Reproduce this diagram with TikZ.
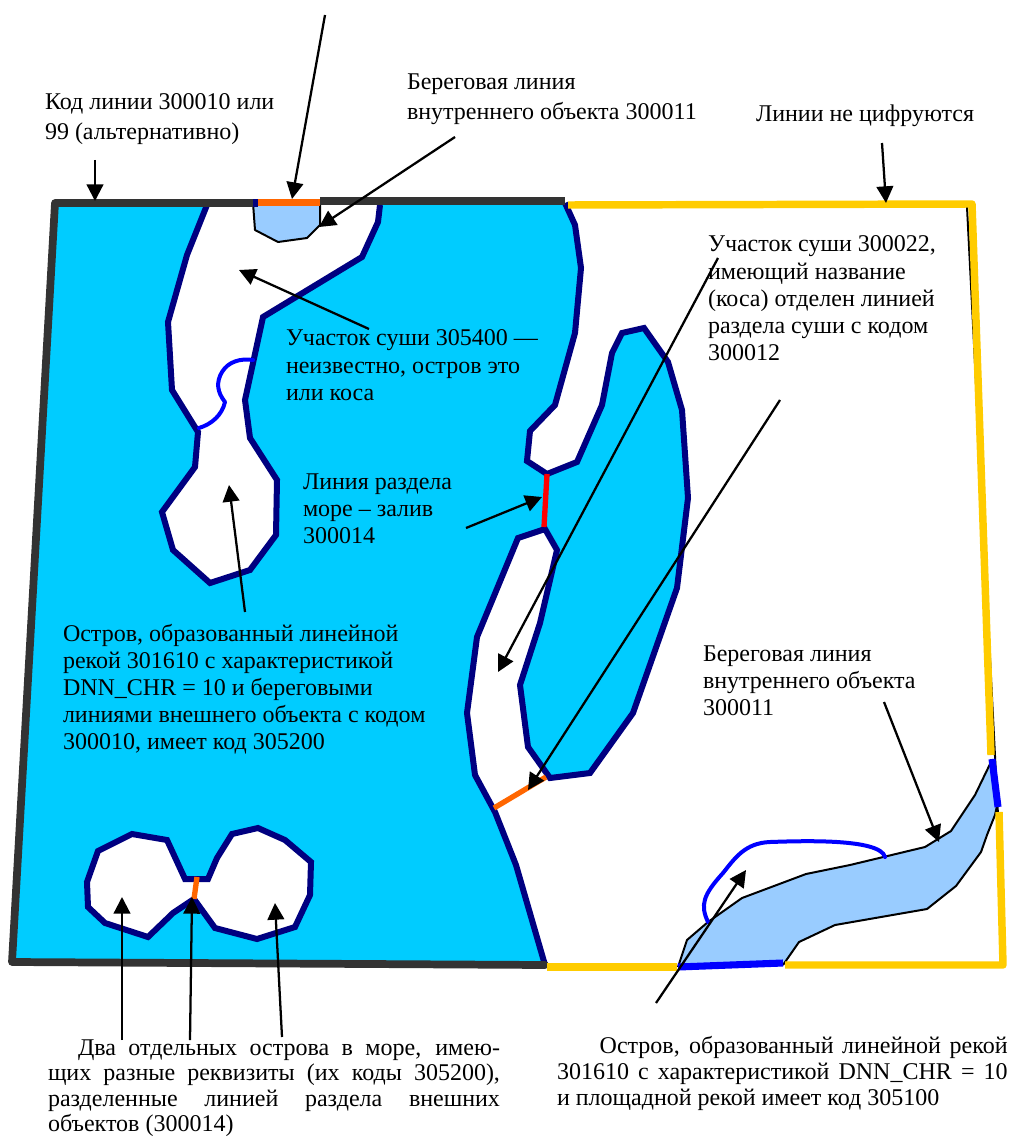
\documentclass[tikz,border=0pt]{standalone}
\usepackage{fontspec}
\setmainfont{Liberation Serif}
\usetikzlibrary{arrows.meta}
\tikzset{
  x=0.75pt,y=-0.75pt,
  coast/.style={draw=navycoast,line width=4.5pt,line join=miter},
  frameline/.style={draw=darkframe,line width=5.8pt,line join=round,line cap=round},
  yellowline/.style={draw=framey,line width=5.6pt,line join=round},
  riverline/.style={draw=riverblue,line width=3pt,line cap=round,line join=round},
  riverwide/.style={draw=riverblue,line width=5.3pt},
  thin outline/.style={draw=black,line width=1.5pt,line join=round},
  noteline/.style={draw=black,line width=1.7pt,-{Triangle[length=12.5pt,width=12.5pt]}},
  label/.style={anchor=north west,inner sep=0pt,outer sep=0pt,align=left,font=\fontsize{18pt}{20.3pt}\selectfont},
  toplabel/.style={label,font=\fontsize{18pt}{22pt}\selectfont},
}
\definecolor{sea}{HTML}{00CCFF}
\definecolor{navycoast}{HTML}{000080}
\definecolor{darkframe}{HTML}{333333}
\definecolor{framey}{HTML}{FFCC00}
\definecolor{riverblue}{HTML}{0000FF}
\definecolor{pondblue}{HTML}{99CCFF}
\definecolor{orangeline}{HTML}{FF6600}
\begin{document}
\begin{tikzpicture}
\useasboundingbox (0,0) rectangle (1012,1145);
% sea
\fill[sea] (55,203) -- (565,203) -- (575,225) -- (581,268) -- (575,333) -- (555,405) -- (530,431) -- (527,461) -- (547,474)
  -- (577,462) -- (602,405) -- (612,353) -- (622,333) -- (644,328) -- (668,362) -- (682,410) -- (688,498) -- (677,588)
  -- (633,713) -- (590,773) -- (550,778) -- (528,747) -- (520,685) -- (540,623) -- (557,550) -- (545,529) -- (518,538)
  -- (477,637) -- (467,713) -- (475,775) -- (495,812) -- (516,865) -- (545,965) -- (12,962) -- cycle;
% land, first island
\fill[white] (207,203) -- (187,255) -- (168,322) -- (172,390) -- (198,432) -- (195,467) -- (162,512) -- (173,550)
  -- (210,583) -- (250,570) -- (276,535) -- (277,480) -- (250,438) -- (245,400) -- (263,317) -- (362,257) -- (378,222) -- (380,203) -- cycle;
\draw[coast] (207,205) -- (187,255) -- (168,322) -- (172,390) -- (198,432) -- (195,467) -- (162,512) -- (173,550)
  -- (210,583) -- (250,570) -- (276,535) -- (277,480) -- (250,438) -- (245,400) -- (263,317) -- (362,257) -- (378,222) -- (380,205);
% pond
\filldraw[fill=pondblue,thin outline] (253,203) -- (255,230) -- (278,242) -- (307,238) -- (320,225) -- (320,203);
\draw[riverline] (253,360) .. controls (240,358) and (228,362) .. (222,372) .. controls (216,382) and (217,392) .. (225,402)
  .. controls (222,415) and (212,424) .. (199,428);
% bay and coast
\draw[coast] (565,203) -- (575,225) -- (581,268) -- (575,333) -- (555,405) -- (530,431) -- (527,461) -- (547,474)
  -- (577,462) -- (602,405) -- (612,353) -- (622,333) -- (644,328) -- (668,362) -- (682,410) -- (688,498) -- (677,588)
  -- (633,713) -- (590,773) -- (550,778) -- (528,747) -- (520,685) -- (540,623) -- (557,550) -- (545,529) -- (518,538)
  -- (477,637) -- (467,713) -- (475,775) -- (495,812) -- (516,865) -- (545,965);
\draw[draw=red,line width=4pt] (547,474) -- (544,527);
\draw[draw=orangeline,line width=4pt] (494,808) -- (546,777);
% sea islands
\fill[white] (185,879) -- (167,840) -- (132,834) -- (98,851) -- (87,882) -- (88,907) -- (105,923) -- (148,937) -- (173,913) -- (194,899)
  -- (215,928) -- (257,939) -- (295,927) -- (310,895) -- (311,862) -- (285,840) -- (258,828) -- (232,834) -- (217,858) -- (208,879) -- cycle;
\draw[coast] (194,899) -- (173,913) -- (148,937) -- (105,923) -- (88,907) -- (87,882) -- (98,851) -- (132,834) -- (167,840) -- (185,879)
  -- (208,879) -- (217,858) -- (232,834) -- (258,828) -- (285,840) -- (311,862) -- (310,895) -- (295,927) -- (257,939) -- (215,928) -- (194,899);
\draw[draw=orangeline,line width=4pt] (197,877) -- (194,899);
% river at right
\draw[thin outline] (967,207) -- (998,815);
\filldraw[fill=pondblue,thin outline] (678,967) -- (687,940) -- (708,922) -- (742,898) -- (806,874) -- (850,865) -- (925,847) -- (951,831)
  -- (975,795) -- (991,762) -- (997,806) -- (995,815) -- (987,835) -- (981,852) -- (956,886) -- (927,909) -- (835,925) -- (799,942) -- (783,965);
\draw[riverline] (708,922) .. controls (700,905) and (703,895) .. (723,873) .. controls (735,858) and (745,843) .. (770,842)
  .. controls (800,841) and (880,838) .. (885,857);
% frame
\draw[frameline] (253,203) -- (55,203) -- (12,962) -- (545,965);
\draw[draw=darkframe,line width=5.8pt] (320,201) -- (565,201);
\draw[draw=navycoast,line width=5.5pt] (253,203) -- (258,203);
\draw[draw=orangeline,line width=5.8pt] (258,202.5) -- (320,202.5);
\draw[yellowline] (568,205) -- (972,204) -- (991,755);
\draw[yellowline] (999,812) -- (1003,965) -- (785,965);
\draw[yellowline] (547,967) -- (677,967);
\draw[riverwide] (992,759) -- (998,807);
\draw[riverwide] (678,967) -- (783,963);
% labels
\node[toplabel] (l1) at (45,94) {Код линии 300010 или\\99 (альтернативно)};
\node[toplabel] (l2) at (407,74) {Береговая линия\\внутреннего объекта 300011};
\node[label] (l3) at (756,105) {Линии не цифруются};
\node[label] (l4) at (708,236) {Участок суши 300022,\\имеющий название\\(коса) отделен линией\\раздела суши с кодом\\300012};
\node[label] (l5) at (286,330) {Участок суши 305400 —\\неизвестно, остров это\\или коса};
\node[label] (l6) at (303,474) {Линия раздела\\море – залив\\300014};
\node[label] (l7) at (63,624) {Остров, образованный линейной\\рекой 301610 с характеристикой\\DNN\_CHR = 10 и береговыми\\линиями внешнего объекта с кодом\\300010, имеет код 305200};
\node[label] (l8) at (703,646) {Береговая линия\\внутреннего объекта\\300011};
\node[label,text width=339pt,align=justify,font=\fontsize{18pt}{18.9pt}\selectfont] (l9) at (48,1040)
  {\hspace*{22.5pt}Два отдельных острова в море, имею-\linebreak щих разные реквизиты (их коды 305200),\linebreak разделенные линией раздела внешних\linebreak объектов (300014)};
\node[label,text width=338pt,align=justify,font=\fontsize{18pt}{19.5pt}\selectfont] (l10) at (557,1036)
  {\hspace*{32pt}Остров, образованный линейной рекой\linebreak 301610 с характеристикой DNN\_CHR = 10\linebreak и площадной рекой имеет код 305100};
% arrows
\coordinate (a1) at (325,15);   \coordinate (b1) at (292,199);
\coordinate (a2) at (95,160);   \coordinate (b2) at (95,201);
\coordinate (a3) at (455,137);  \coordinate (b3) at (319,227);
\coordinate (a4) at (882,143);  \coordinate (b4) at (886,203);
\coordinate (a5) at (369,329);  \coordinate (b5) at (239,270);
\coordinate (a6) at (466,528);  \coordinate (b6) at (542,497);
\coordinate (a7) at (245,612);  \coordinate (b7) at (229,485);
\coordinate (a8) at (718,258);  \coordinate (b8) at (498,672);
\coordinate (a9) at (780,400);  \coordinate (b9) at (528,790);
\coordinate (a10) at (884,702); \coordinate (b10) at (939,842);
\coordinate (a11) at (656,1003);\coordinate (b11) at (746,870);
\coordinate (a12) at (122,1040);\coordinate (b12) at (122,897);
\coordinate (a13) at (190,1040);\coordinate (b13) at (192,897);
\coordinate (a14) at (282,1037);\coordinate (b14) at (275,903);
\foreach \i in {1,...,14}{\draw[noteline] (a\i) -- (b\i);}
\end{tikzpicture}
\end{document}
